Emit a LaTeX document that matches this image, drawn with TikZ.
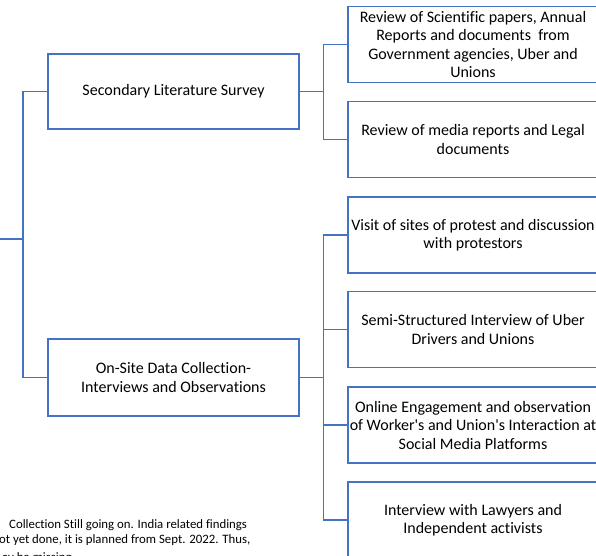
\documentclass[tikz,border=0pt]{standalone}
\usepackage{fontspec}
\setmainfont{Carlito}[Ligatures={NoCommon}]
\definecolor{boxblue}{HTML}{4472C4}
\begin{document}
\begin{tikzpicture}[x=1pt,y=-1pt,
  box/.style={draw=boxblue,line width=1.3pt,fill=white,minimum width=250pt,minimum height=76pt,
    inner sep=0pt,align=center,font=\fontsize{16}{18.5}\selectfont,text=black},
  conn/.style={draw=boxblue,line width=1.3pt},
  note/.style={anchor=west,inner sep=0pt,font=\fontsize{12.8}{15}\selectfont,text=black}]
\useasboundingbox (0,0) rectangle (596,555);
\clip (0,0) rectangle (596,555);
\coordinate (root) at (0,239);
\node[box,minimum width=251pt,minimum height=75pt] (sec) at (173.5,91.5) {Secondary Literature Survey};
\node[box,minimum width=251pt,minimum height=77pt] (ons) at (173.5,377.5) {On-Site Data Collection-\\Interviews and Observations};
\node[box] (c1) at (473,44.5) {Review of Scientific papers, Annual\\Reports and documents\ \ from\\Government agencies, Uber and\\Unions};
\node[box] (c2) at (473,139.5) {Review of media reports and Legal\\documents};
\node[box] (c3) at (473,235) {Visit of sites of protest and discussion\\with protestors};
\node[box] (c4) at (473,329.5) {Semi-Structured Interview of Uber\\Drivers and Unions};
\node[box] (c5) at (473,425) {Online Engagement and observation\\of Worker\textquotesingle s and Union\textquotesingle s Interaction at\\Social Media Platforms};
\node[box] (c6) at (473,520) {Interview with Lawyers and\\Independent activists};
\draw[conn] (root) -- ++(23,0) |- (sec.west);
\draw[conn] (root) -- ++(23,0) |- (ons.west);
\foreach \c in {c1,c2} \draw[conn] (sec.east) -- ++(24,0) |- (\c.west);
\foreach \c in {c3,c4,c5,c6} \draw[conn] (ons.east) -- ++(24,0) |- (\c.west);
\node[note] (n1) at (9,525) {Collection Still going on. India related findings};
\node[note] (n2) at (-1,540) {ot yet done, it is planned from Sept. 2022. Thus,};
\node[note] (n3) at (2,558) {ay be missing};
\end{tikzpicture}
\end{document}
